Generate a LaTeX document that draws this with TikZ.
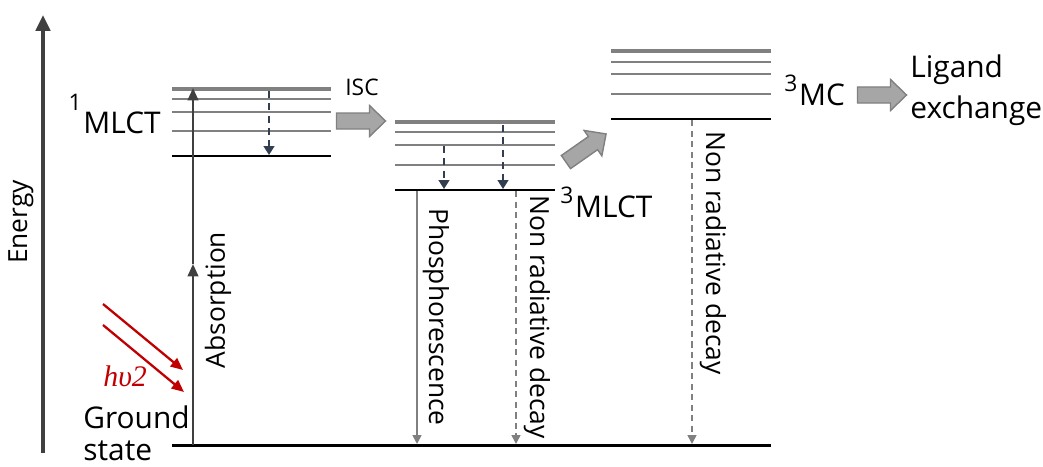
\documentclass[tikz,border=0pt]{standalone}
\usepackage{fontspec}
\setmainfont{Open Sans}
\newfontfamily\photonfont{Liberation Serif}
\usetikzlibrary{arrows.meta}

\definecolor{levelgray}{HTML}{808080}
\definecolor{axisgray}{HTML}{404040}
\definecolor{relaxblue}{HTML}{333F50}
\definecolor{blockfill}{HTML}{A6A6A6}
\definecolor{photonred}{HTML}{C00000}

\tikzset{
  toplevel/.style={line width=2.8pt,levelgray},
  viblevel/.style={line width=1.1pt,levelgray},
  baselevel/.style={line width=1.7pt,black},
  relax/.style={line width=1.1pt,relaxblue,dashed,dash pattern=on 4pt off 3pt,
    -{Triangle[length=5pt,width=6pt]}},
  decay/.style={line width=0.9pt,levelgray,
    -{Triangle[length=5pt,width=5pt]}},
  nonrad/.style={decay,dash pattern=on 3.5pt off 2.5pt},
  blockarrow/.style={draw=levelgray,fill=blockfill,line width=0.8pt,line join=miter},
  biglabel/.style={font=\fontsize{17}{20}\selectfont},
  midlabel/.style={font=\fontsize{15}{18}\selectfont}
}

\newcommand{\spin}[2][0.45em]{\raisebox{#1}{\fontsize{13}{15}\selectfont #2}\kern1pt}
% fat arrow centred at #1, turned by #2
\newcommand{\fatarrow}[2]{%
  \begin{scope}[shift={#1},rotate=#2]
    \draw[blockarrow] (-24.5,-8) -- (8.5,-8) -- (8.5,-15.5) -- (24.5,0)
      -- (8.5,15.5) -- (8.5,8) -- (-24.5,8) -- cycle;
  \end{scope}}

\begin{document}
\begin{tikzpicture}[x=0.02cm,y=-0.02cm]
    \useasboundingbox (0,0) rectangle (1043,466);

    % Energy axis
    \coordinate (e0) at (43,453);
    \coordinate (e1) at (43,15);
    \draw[line width=2.3pt,axisgray,-{Triangle[length=9pt,width=8pt]}] (e0) -- (e1);
    \node[midlabel,rotate=90] (energy) at (21,222) {Energy};

    % 1MLCT levels
    \draw[toplevel]  (172,89)  -- (331,89);
    \draw[viblevel]  (172,99)  -- (331,99);
    \draw[viblevel]  (172,112) -- (331,112);
    \draw[viblevel]  (172,131) -- (331,131);
    \draw[baselevel] (172,156) -- (331,156);

    % 3MLCT levels
    \draw[toplevel]  (395,122) -- (555,122);
    \draw[viblevel]  (395,132) -- (555,132);
    \draw[viblevel]  (395,145) -- (555,145);
    \draw[viblevel]  (395,165) -- (555,165);
    \draw[baselevel] (395,190) -- (555,190);

    % 3MC levels
    \draw[toplevel]  (611,51)  -- (771,51);
    \draw[viblevel]  (611,62)  -- (771,62);
    \draw[viblevel]  (611,74)  -- (771,74);
    \draw[viblevel]  (611,94)  -- (771,94);
    \draw[baselevel] (611,119) -- (771,119);

    % Ground state
    \draw[baselevel] (172,445) -- (771,445);

    % Absorption
    \coordinate (abs0) at (193,445);
    \coordinate (abs1) at (193,264);
    \coordinate (abs2) at (193,88);
    \draw[line width=1.3pt,axisgray,-{Triangle[length=7pt,width=6pt]}] (abs0) -- (abs1);
    \draw[line width=1.3pt,axisgray,-{Triangle[length=7pt,width=6pt]}] (abs1) -- (abs2);
    \node[midlabel,rotate=90] (absorption) at (218,300) {Absorption};

    % Vibrational relaxation
    \coordinate (v0) at (269,91);
    \coordinate (v1) at (269,155);
    \draw[relax] (v0) -- (v1);
    \coordinate (v2) at (444,146);
    \coordinate (v3) at (444,189);
    \draw[relax] (v2) -- (v3);
    \coordinate (v4) at (503,125);
    \coordinate (v5) at (503,189);
    \draw[relax] (v4) -- (v5);

    % Decay from 3MLCT and 3MC
    \coordinate (p0) at (417,191);
    \coordinate (p1) at (417,444);
    \draw[decay] (p0) -- (p1);
    \node[midlabel,rotate=-90] (phos) at (436,317) {Phosphorescence};
    \coordinate (n0) at (516,191);
    \coordinate (n1) at (516,444);
    \draw[nonrad] (n0) -- (n1);
    \node[midlabel,rotate=-90] (nonrad1) at (537,317) {Non radiative decay};
    \coordinate (m0) at (692,120);
    \coordinate (m1) at (692,444);
    \draw[nonrad] (m0) -- (m1);
    \node[midlabel,rotate=-90] (nonrad2) at (713,253) {Non radiative decay};

    % Block arrows
    \fatarrow{(361,121)}{0}
    \node[font=\fontsize{13}{15}\selectfont,anchor=base west,inner sep=0pt] (isclabel) at (345,95) {ISC};
    \fatarrow{(586,148)}{35}
    \fatarrow{(882,95)}{0}

    % Labels
    \node[biglabel,anchor=base east,inner sep=0pt] (s1) at (161,133) {\spin[0.75em]{1}MLCT};
    \node[biglabel,anchor=base west,inner sep=0pt] (t1) at (560,217) {\spin{3}MLCT};
    \node[biglabel,anchor=base west,inner sep=0pt] (t2) at (784,105) {\spin{3}MC};
    \node[font=\fontsize{17}{23}\selectfont,anchor=base west,align=left,inner sep=0pt]
        (ligand) at (910,118) {Ligand\\exchange};
    \node[font=\fontsize{17}{18}\selectfont,anchor=base west,align=left,inner sep=0pt]
        (ground) at (83,460) {Ground\\state};

    % Light
    \coordinate (h0) at (103,304);
    \coordinate (h1) at (183,370);
    \coordinate (h2) at (103,325);
    \coordinate (h3) at (184,392);
    \draw[line width=1.3pt,photonred,-{Triangle[length=7pt,width=6pt]}] (h0) -- (h1);
    \draw[line width=1.3pt,photonred,-{Triangle[length=7pt,width=6pt]}] (h2) -- (h3);
    \node[photonred,font=\photonfont\itshape\fontsize{17}{20}\selectfont,anchor=base west,inner sep=0pt]
        (hnu) at (103,386) {hυ2};
\end{tikzpicture}
\end{document}
